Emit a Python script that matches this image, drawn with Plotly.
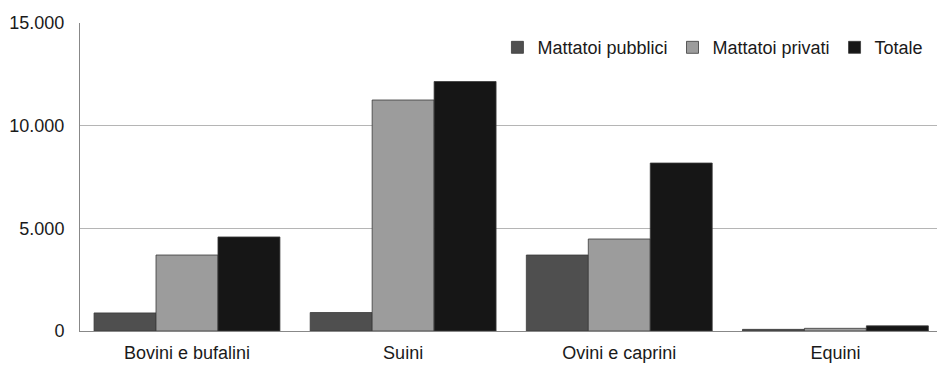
import plotly.graph_objects as go

# Macellazioni per specie e tipo di mattatoio
categorie = ["Bovini e bufalini", "Suini", "Ovini e caprini", "Equini"]
pubblici = [880, 900, 3700, 80]
privati = [3700, 11250, 4480, 130]
totale = [4580, 12150, 8180, 250]

serie = [
    ("Mattatoi pubblici", pubblici, "#4f4f4f"),
    ("Mattatoi privati", privati, "#9c9c9c"),
    ("Totale", totale, "#161616"),
]

fig = go.Figure()
for nome, valori, colore in serie:
    fig.add_trace(go.Bar(
        name=nome, x=categorie, y=valori,
        marker=dict(color=colore, line=dict(color="#3a3a3a", width=0.8)),
    ))

font_base = dict(family="Liberation Sans, Arial, sans-serif", size=18, color="#1a1a1a")

fig.update_layout(
    width=937, height=365,
    margin=dict(l=80, r=0, t=23, b=34),
    paper_bgcolor="white", plot_bgcolor="white",
    barmode="group", bargap=0.14, bargroupgap=0,
    separators=",.",
    font=font_base,
    legend=dict(
        orientation="h", x=0.99, xanchor="right", y=0.92, yanchor="middle",
        font=dict(size=18), itemwidth=30, bgcolor="rgba(0,0,0,0)",
        traceorder="normal",
    ),
    xaxis=dict(
        range=[-0.495, 3.47], showline=True, linecolor="#888", linewidth=1,
        ticks="", showgrid=False, tickfont=dict(size=18), ticklabelstandoff=5,
    ),
    yaxis=dict(
        range=[0, 15000], tickvals=[0, 5000, 10000, 15000], tickformat=",d",
        showline=True, linecolor="#888", linewidth=1,
        showgrid=True, gridcolor="#b5b5b5", gridwidth=1,
        zeroline=False, ticks="", tickfont=dict(size=18), ticklabelstandoff=11,
    ),
)

fig.write_html("out.html")
